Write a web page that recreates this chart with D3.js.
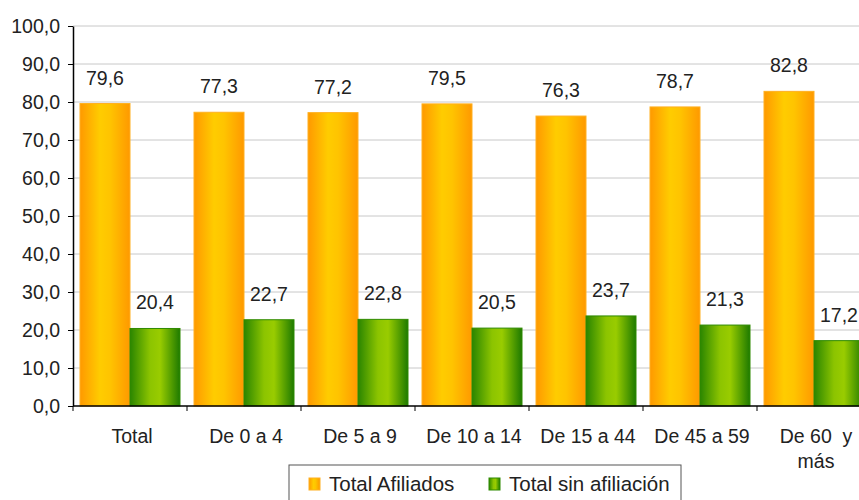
<!DOCTYPE html>
<html>
<head>
<meta charset="utf-8">
<script src="https://cdn.jsdelivr.net/npm/d3@7"></script>
<style>
  body { margin: 0; background: #fff; }
  svg { display: block; font-family: "Liberation Sans", Arial, sans-serif; }
</style>
</head>
<body>
<svg id="canvas" width="859" height="500"></svg>
<script>
// data
var categories = ['Total', 'De 0 a 4', 'De 5 a 9', 'De 10 a 14', 'De 15 a 44', 'De 45 a 59', 'De 60  y|más'];
var afiliados = [79.6, 77.3, 77.2, 79.5, 76.3, 78.7, 82.8];
var sinAfiliacion = [20.4, 22.7, 22.8, 20.5, 23.7, 21.3, 17.2];
var seriesNames = ['Total Afiliados', 'Total sin afiliación'];
var yTicks = [0, 10, 20, 30, 40, 50, 60, 70, 80, 90, 100];

var svg = d3.select('#canvas');
var mLeft = 73, mTop = 26, plotW = 798, plotH = 380;
var fs = 19.5;

var fmt = function (v) { return v.toFixed(1).replace('.', ','); };

// gradients
var defs = svg.append('defs');
var mkGrad = function (id, stops) {
  var g = defs.append('linearGradient').attr('id', id)
    .attr('x1', '0%').attr('x2', '100%').attr('y1', '0%').attr('y2', '0%');
  stops.forEach(function (s) {
    g.append('stop').attr('offset', s[0]).attr('stop-color', s[1]);
  });
};
mkGrad('gOrange', [['0%', '#ff9900'], ['40%', '#ffcc00'], ['60%', '#ffc400'], ['100%', '#ff9900']]);
mkGrad('gGreen', [['0%', '#2a8500'], ['40%', '#8cc400'], ['60%', '#99cc00'], ['100%', '#1e7a00']]);

var x = d3.scaleBand().domain(d3.range(categories.length)).range([mLeft, mLeft + plotW]);
var y = d3.scaleLinear().domain([0, 100]).range([mTop + plotH, mTop]);

var g = svg.append('g');

// gridlines
g.selectAll('line.grid').data(yTicks.slice(1)).enter().append('line')
  .attr('x1', mLeft).attr('x2', mLeft + plotW)
  .attr('y1', function (d) { return y(d); }).attr('y2', function (d) { return y(d); })
  .attr('stroke', '#c8c8c8').attr('stroke-width', 1);

var pad = 7, bw = (x.bandwidth() - 2 * pad) / 2;

var drawSeries = function (vals, idx, fill, stroke) {
  g.selectAll('rect.s' + idx).data(vals).enter().append('rect')
    .attr('x', function (d, i) { return x(i) + pad + idx * bw; })
    .attr('y', function (d) { return y(d); })
    .attr('width', bw)
    .attr('height', function (d) { return y(0) - y(d); })
    .attr('fill', fill)
    .attr('stroke', stroke).attr('stroke-width', 1);
  g.selectAll('text.l' + idx).data(vals).enter().append('text')
    .attr('x', function (d, i) { return x(i) + pad + idx * bw + bw / 2; })
    .attr('y', function (d) { return y(d) - 19; })
    .attr('text-anchor', 'middle')
    .attr('font-size', fs).attr('fill', '#222')
    .text(fmt);
};
drawSeries(afiliados, 0, 'url(#gOrange)', '#ffb020');
drawSeries(sinAfiliacion, 1, 'url(#gGreen)', '#2f8a00');

// y axis
var yAxis = d3.axisLeft(y).tickValues(yTicks).tickSize(5).tickSizeOuter(0).tickFormat(fmt);
var ya = svg.append('g').attr('transform', 'translate(' + mLeft + ',0)').call(yAxis);
ya.select('.domain').attr('stroke', '#000').attr('stroke-width', 1.5);
ya.selectAll('.tick line').attr('stroke', '#000');
ya.selectAll('.tick text').attr('font-size', fs).attr('fill', '#222')
  .attr('font-family', '"Liberation Sans", Arial, sans-serif').attr('x', -13);

// x axis
var xa = svg.append('g').attr('transform', 'translate(0,' + (mTop + plotH) + ')');
xa.append('line').attr('x1', mLeft).attr('x2', mLeft + plotW).attr('stroke', '#000').attr('stroke-width', 1.5);
xa.selectAll('line.tk').data(d3.range(categories.length + 1)).enter().append('line')
  .attr('x1', function (i) { return mLeft + i * x.step(); })
  .attr('x2', function (i) { return mLeft + i * x.step(); })
  .attr('y1', 0).attr('y2', 5).attr('stroke', '#000');
xa.selectAll('text').data(categories).enter().append('text')
  .attr('x', function (d, i) { return x(i) + x.bandwidth() / 2 + 2; })
  .attr('y', 37)
  .attr('text-anchor', 'middle').attr('font-size', fs).attr('fill', '#222')
  .each(function (d) {
    var t = d3.select(this);
    d.split('|').forEach(function (part, k) {
      t.append('tspan').attr('x', t.attr('x')).attr('dy', k ? 25 : 0)
        .attr('xml:space', 'preserve').style('white-space', 'pre').text(part);
    });
  });

// legend
var lg = svg.append('g').attr('transform', 'translate(289,465)');
lg.append('rect').attr('x', 0).attr('y', 0).attr('width', 392).attr('height', 40)
  .attr('fill', '#fff').attr('stroke', '#555').attr('stroke-width', 1);
var legX = [20, 200];
var legFill = ['url(#gOrange)', 'url(#gGreen)'];
var legStroke = ['#ffb020', '#2f8a00'];
seriesNames.forEach(function (name, i) {
  lg.append('rect').attr('x', legX[i]).attr('y', 13).attr('width', 11).attr('height', 12)
    .attr('fill', legFill[i]).attr('stroke', legStroke[i]);
  lg.append('text').attr('x', legX[i] + 20).attr('y', 26)
    .attr('font-size', 20.5).attr('fill', '#222').text(name);
});
</script>
</body>
</html>
